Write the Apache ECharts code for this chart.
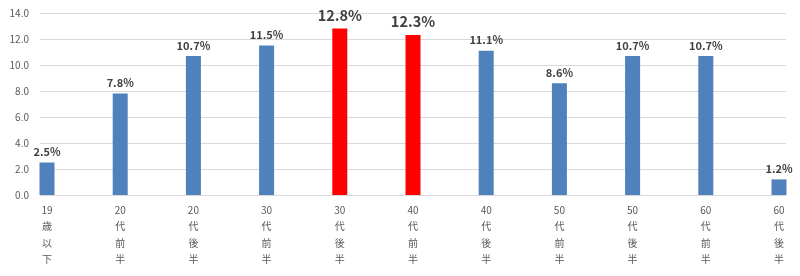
<!DOCTYPE html>
<html><head><meta charset="utf-8">
<script src="https://cdn.jsdelivr.net/npm/echarts@6/dist/echarts.min.js"></script>
<style>html,body{margin:0;padding:0;background:#fff}#c{width:800px;height:276px}</style>
</head><body><div id="c"></div>
<script>
const categories = ['19歳以下','20代前半','20代後半','30代前半','30代後半','40代前半','40代後半','50代前半','50代後半','60代前半','60代後半'];
const values = [2.5, 7.8, 10.7, 11.5, 12.8, 12.3, 11.1, 8.6, 10.7, 10.7, 1.2];
const highlighted = ['30代後半','40代前半'];
const yTicks = [0, 2, 4, 6, 8, 10, 12, 14];

const BLUE = '#4f81bd', RED = '#ff0000';
const FONT = '"Noto Sans CJK JP", "Noto Sans", sans-serif';

function vertLabel(s){
  const m = s.match(/^(\d+)(.*)$/);
  const head = m ? m[1] : '';
  const rest = m ? m[2] : s;
  return [head].concat(rest.split('')).filter(x=>x).join('\n');
}

const data = values.map((v,i)=>{
  const hi = highlighted.includes(categories[i]);
  return {
    value: v,
    itemStyle: {color: hi ? RED : BLUE},
    label: hi ? {fontSize: 14.5, distance: 6} : {fontSize: 11, distance: 5}
  };
});

const chart = echarts.init(document.getElementById('c'), null, {renderer:'canvas'});
chart.setOption({
  animation:false,
  textStyle:{fontFamily:FONT},
  grid:[
    {left:47, right:21, top:13, height:182},
    {left:40, right:14, top:13, height:182}
  ],
  xAxis:[
    {type:'category', gridIndex:0, data:categories, boundaryGap:false,
     axisLine:{show:false}, axisTick:{show:false},
     axisLabel:{formatter:vertLabel, color:'#595959', fontSize:10, lineHeight:16.3, margin:7, interval:0, fontFamily:FONT}},
    {type:'category', gridIndex:1, data:categories, show:false}
  ],
  yAxis:[
    {type:'value', gridIndex:0, min:0, max:14, interval:2, show:false, splitLine:{show:false}},
    {type:'value', gridIndex:1, min:yTicks[0], max:yTicks[yTicks.length-1], interval:2,
     axisLine:{show:false}, axisTick:{show:false},
     axisLabel:{formatter:v=>v.toFixed(1), color:'#595959', fontSize:10, margin:11, fontFamily:FONT},
     splitLine:{lineStyle:{color:'#d9d9d9', width:1}}}
  ],
  series:[{
    type:'bar', xAxisIndex:0, yAxisIndex:0, data:data, barWidth:15,
    label:{show:true, position:'top', formatter:p=>p.value.toFixed(1)+'%', color:'#404040', fontWeight:'bold', fontFamily:FONT}
  }]
});
</script></body></html>
